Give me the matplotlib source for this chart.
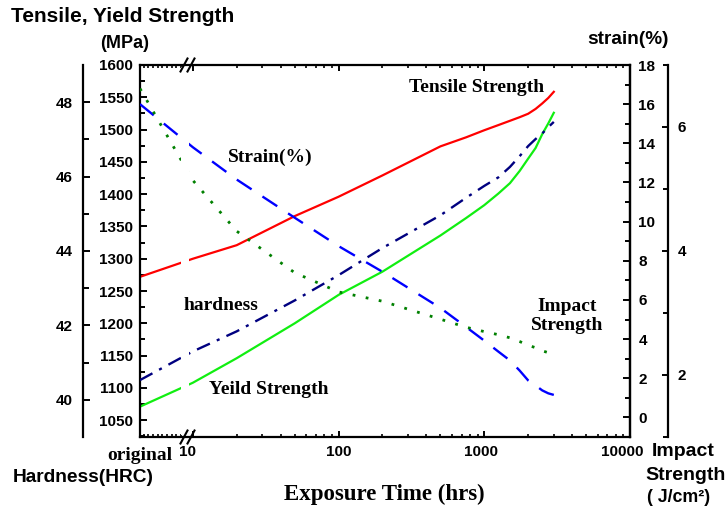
import matplotlib
matplotlib.use("Agg")
import matplotlib.pyplot as plt
from matplotlib.patches import Rectangle
from matplotlib.transforms import ScaledTranslation
from matplotlib.ticker import FixedLocator, MultipleLocator, NullFormatter, FixedFormatter
import numpy as np

# exposure time in hours; first entry is the untreated ("original") sample
hours = [4.34, 10, 20, 50, 100, 200, 500, 750, 1000, 1250, 1500, 1750,
         2000, 2250, 2500, 2750, 3000]
tensile = [1272, 1300, 1321, 1366, 1396, 1429, 1474, 1488, 1499, 1507,
           1513.6, 1519.2, 1524.5, 1532, 1540.5, 1549, 1558.5]
yield_strength = [1071, 1108, 1146, 1200, 1244, 1280, 1336, 1363, 1383,
                  1401, 1417, 1436, 1455, 1471.5, 1493, 1509.6, 1526]
hardness = [40.53, 41.3, 41.84, 42.67, 43.35, 44.08, 44.96, 45.43, 45.75,
            45.98, 46.26, 46.55, 46.82, 47.01, 47.16, 47.33, 47.47]
strain = [16.0, 13.8, 12.15, 10.2, 8.75, 7.44, 5.59, 4.62, 3.92, 3.36,
          2.91, 2.39, 1.89, 1.63, 1.38, 1.23, 1.15]
impact = [6.62, 5.14, 4.32, 3.65, 3.34, 3.19, 2.90, 2.77, 2.70, 2.65,
          2.60, 2.54, 2.48, 2.44, 2.39, 2.36, 2.32]

x_major = [10, 100, 1000, 10000]
x_major_labels = ["10", "100", "1000", "10000"]
x_label_shift_px = [-5, 0, -3, -8]

SANS = "Liberation Sans"
SERIF = "Liberation Serif"
plt.rcParams["font.family"] = SANS
plt.rcParams["font.weight"] = "bold"

W, H = 726, 515
L, R, T, B = 140, 630, 65, 437
TICK_FS = 11

fig = plt.figure(figsize=(W / 100, H / 100), dpi=100)
ax = fig.add_axes([L / W, 1 - B / H, (R - L) / W, (B - T) / H])


def fx(px):
    return px / W


def fy(py):
    return 1 - py / H


ax_s = ax.twinx()
ax_h = ax.twinx()
ax_i = ax.twinx()

# ---- main axes: tensile / yield strength ----
ax.set_xscale("log")
ax.set_xlim(4.34, 10000)
ax.set_ylim(1024, 1600)
for sp in ax.spines.values():
    sp.set_linewidth(1.6)
ax.set_yticks(np.arange(1050, 1601, 50))
ax.set_yticklabels([str(v) for v in range(1050, 1601, 50)], fontweight="bold")
ax.yaxis.set_minor_locator(MultipleLocator(25))
ax.tick_params(axis="y", which="major", direction="in", length=5, width=1.4,
               labelsize=TICK_FS, pad=5)
ax.tick_params(axis="y", which="minor", direction="in", length=3.8, width=1.4)

orig_minor = np.logspace(np.log10(4.6), np.log10(8.3), 9)
log_minor = [m * d for d in (10, 100, 1000) for m in range(2, 10)]
ax.xaxis.set_major_locator(FixedLocator(x_major))
ax.xaxis.set_major_formatter(FixedFormatter(x_major_labels))
ax.xaxis.set_minor_locator(FixedLocator(list(orig_minor) + log_minor))
ax.xaxis.set_minor_formatter(NullFormatter())
ax.tick_params(axis="x", which="major", direction="in", length=4, width=1.4,
               labelsize=TICK_FS, pad=6, top=True)
ax.tick_params(axis="x", which="minor", direction="in", length=2.3, width=1.2,
               top=True)

ax.plot(hours, tensile, color="#ff0000", lw=1.6, zorder=2)
ax.plot(hours, yield_strength, color="#11ee11", lw=1.6, zorder=2)

# ---- strain axis (right spine) ----
ax_s.set_ylim(-1, 18)
for k in ("left", "top", "bottom"):
    ax_s.spines[k].set_visible(False)
ax_s.spines["right"].set_linewidth(1.6)
ax_s.set_yticks(range(0, 19, 2))
ax_s.set_yticklabels([str(v) for v in range(0, 19, 2)], fontweight="bold")
ax_s.yaxis.set_minor_locator(MultipleLocator(1))
ax_s.tick_params(axis="y", which="major", direction="in", length=5, width=1.4,
                 labelsize=TICK_FS, pad=6)
ax_s.tick_params(axis="y", which="minor", direction="in", length=3.8, width=1.4)
ax_s.plot(hours, strain, color="#0000ff", lw=1.7, dashes=(7.5, 5.5), zorder=2)

# ---- hardness axis (offset left spine) ----
ax_h.set_ylim(39, 49)
for k in ("right", "top", "bottom"):
    ax_h.spines[k].set_visible(False)
ax_h.spines["left"].set_visible(True)
ax_h.spines["left"].set_position(("axes", (82.5 - L) / (R - L)))
ax_h.spines["left"].set_linewidth(1.6)
ax_h.yaxis.set_label_position("left")
ax_h.yaxis.tick_left()
ax_h.set_yticks([40, 42, 44, 46, 48])
ax_h.set_yticklabels(["40", "42", "44", "46", "48"], fontweight="bold")
ax_h.yaxis.set_minor_locator(FixedLocator([41, 43, 45, 47]))
ax_h.tick_params(axis="y", which="major", direction="in", length=5, width=1.4,
                 labelsize=TICK_FS, pad=7)
ax_h.tick_params(axis="y", which="minor", direction="in", length=4, width=1.4)
ax_h.plot(hours, hardness, color="#000080", lw=1.7,
          dashes=(6, 3.2, 1.3, 3.2), zorder=2)

# ---- impact strength axis (offset right spine) ----
ax_i.set_ylim(1, 7)
for k in ("left", "top", "bottom"):
    ax_i.spines[k].set_visible(False)
ax_i.spines["right"].set_position(("axes", (668 - L) / (R - L)))
ax_i.spines["right"].set_linewidth(1.6)
ax_i.set_yticks([2, 4, 6])
ax_i.set_yticklabels(["2", "4", "6"], fontweight="bold")
ax_i.yaxis.set_minor_locator(FixedLocator([1, 3, 5, 7]))
ax_i.tick_params(axis="y", which="major", direction="in", length=4, width=1.4,
                 labelsize=TICK_FS, pad=7)
ax_i.tick_params(axis="y", which="minor", direction="in", length=3.5, width=1.4)
ax_i.plot(hours, impact, color="#008000", lw=2.0, dashes=(1, 3.8), zorder=2)

# axis break: white gap through the curves and "//" marks on top/bottom spines
gx0, gx1 = (181 - L) / (R - L), (189 - L) / (R - L)
ax_i.add_patch(Rectangle((gx0, 0.006), gx1 - gx0, 0.988, facecolor="white",
                         edgecolor="none", transform=ax_i.transAxes, zorder=3))
dx, dy = 3.5 / (R - L), 6.5 / (B - T)
for yc in (0.0, 1.0):
    for xc in ((184 - L) / (R - L), (191 - L) / (R - L)):
        ax_i.plot([xc - dx, xc + dx], [yc - dy, yc + dy], color="black",
                  lw=1.5, transform=ax_i.transAxes, clip_on=False, zorder=5)
ax.set_xlim(4.34, 10000)
ax_i.set_ylim(1, 7)

# nudge the time labels slightly left of their ticks
for lab, shift in zip(ax.xaxis.get_majorticklabels(), x_label_shift_px):
    lab.set_transform(lab.get_transform()
                      + ScaledTranslation(shift / 100, 0, fig.dpi_scale_trans))

# ---- axis titles ----
fig.text(fx(122.5), fy(17), "Tensile, Yield Strength", ha="center", va="center",
         fontsize=15, fontweight="bold", family=SANS)
fig.text(fx(125), fy(44), "(MPa)", ha="center", va="center",
         fontsize=13, fontweight="bold", family=SANS)
fig.text(fx(628), fy(40), "strain(%)", ha="center", va="center",
         fontsize=13.7, fontweight="bold", family=SANS)
fig.text(fx(83), fy(478), "Hardness(HRC)", ha="center", va="center",
         fontsize=13.8, fontweight="bold", family=SANS)
fig.text(fx(139.5), fy(455), "original", ha="center", va="center",
         fontsize=14, fontweight="bold", family=SERIF)
fig.text(fx(384), fy(494), "Exposure Time (hrs)", ha="center", va="center",
         fontsize=16.5, fontweight="bold", family=SERIF)
fig.text(fx(683), fy(452), "Impact", ha="center", va="center",
         fontsize=14, fontweight="bold", family=SANS)
fig.text(fx(686), fy(475), "Strength", ha="center", va="center",
         fontsize=14, fontweight="bold", family=SANS)
fig.text(fx(679), fy(497), "( J/cm²)", ha="center", va="center",
         fontsize=12.8, fontweight="bold", family=SANS)

# ---- curve labels ----
fig.text(fx(476.5), fy(87), "Tensile Strength", ha="center", va="center",
         fontsize=14, fontweight="bold", family=SERIF)
fig.text(fx(270.5), fy(157), "Strain(%)", ha="center", va="center",
         fontsize=14, fontweight="bold", family=SERIF)
fig.text(fx(220.5), fy(305), "hardness", ha="center", va="center",
         fontsize=14, fontweight="bold", family=SERIF)
fig.text(fx(269), fy(390), "Yeild Strength", ha="center", va="center",
         fontsize=14, fontweight="bold", family=SERIF)
fig.text(fx(567), fy(316), "Impact\nStrength", ha="center", va="center",
         fontsize=14, fontweight="bold", family=SERIF, linespacing=1.2)

fig.savefig("out.png", dpi=100)
